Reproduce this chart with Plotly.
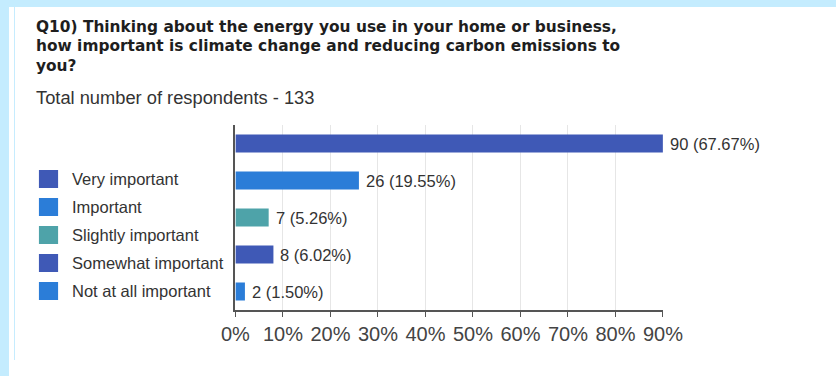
import plotly.graph_objects as go

# Survey responses, Q10
categories = ["Very important", "Important", "Slightly important",
              "Somewhat important", "Not at all important"]
counts = [90, 26, 7, 8, 2]
bar_colors = ["#3f59b6", "#2b7dd8", "#4ea3a9", "#3f59b6", "#2b7dd8"]
tick_values = [0, 10, 20, 30, 40, 50, 60, 70, 80, 90]
tick_labels = ["0%", "10%", "20%", "30%", "40%", "50%", "60%", "70%", "80%", "90%"]

total = sum(counts)
title_lines = ["Q10) Thinking about the energy you use in your home or business,",
               "how important is climate change and reducing carbon emissions to",
               "you?"]
subtitle_text = f"Total number of respondents - {total}"

# the page keeps its default 8px body margin, so the figure is 16px smaller
PAGE_W, PAGE_H, OFF = 836, 376, 8
W, H = PAGE_W - 2 * OFF, PAGE_H - 2 * OFF
FONT = "Arial, Liberation Sans, sans-serif"
TITLE_FONT = "DejaVu Sans, Verdana, sans-serif"
FRAME = "#c4ecfe"


def px_x(p):
    """page pixel column -> paper fraction"""
    return (p - OFF) / W


def px_y(p):
    """page pixel row -> paper fraction"""
    return 1 - (p - OFF) / H


fig = go.Figure()
fig.add_trace(go.Bar(
    x=counts,
    y=categories,
    orientation="h",
    marker=dict(color=bar_colors, line=dict(width=0)),
    showlegend=False,
    hoverinfo="skip",
))

annotations = []
# value labels next to each bar
for cat, c in zip(categories, counts):
    annotations.append(dict(
        x=c, y=cat, xref="x", yref="y",
        text=f"{c} ({c / total * 100:.2f}%)",
        showarrow=False, xanchor="left", yanchor="middle", xshift=5,
        font=dict(family=FONT, size=16.5, color="#333333"),
    ))

# question title, one annotation per line
for line, cy in zip(title_lines, [35, 54.5, 74]):
    annotations.append(dict(
        x=px_x(29), y=px_y(cy), xref="paper", yref="paper",
        text=f"<b>{line}</b>", showarrow=False,
        xanchor="left", yanchor="middle",
        font=dict(family=TITLE_FONT, size=15.4, color="#1e1e1e"),
    ))
annotations.append(dict(
    x=px_x(29), y=px_y(106), xref="paper", yref="paper",
    text=subtitle_text, showarrow=False, xanchor="left", yanchor="middle",
    font=dict(family=FONT, size=18.3, color="#333333"),
))

shapes = []
# sliver of the left frame band that falls inside the figure
shapes.append(dict(type="rect", xref="paper", yref="paper", x0=0, x1=px_x(9),
                   y0=0, y1=1, fillcolor=FRAME, line=dict(width=0)))

# legend entries
legend_top = 187
legend_step = 28
for i, (cat, col) in enumerate(zip(categories, bar_colors)):
    cy = legend_top + i * legend_step
    shapes.append(dict(type="rect", xref="paper", yref="paper",
                       x0=px_x(34), x1=px_x(54), y0=px_y(cy + 9), y1=px_y(cy - 9),
                       fillcolor=col, line=dict(width=0)))
    annotations.append(dict(
        x=px_x(66), y=px_y(cy), xref="paper", yref="paper",
        text=cat, showarrow=False, xanchor="left", yanchor="middle",
        font=dict(family=FONT, size=16.5, color="#333333"),
    ))

fig.update_layout(
    width=W, height=H,
    margin=dict(l=0, r=0, t=0, b=0),
    paper_bgcolor="white",
    plot_bgcolor="white",
    bargap=0.51,
    xaxis=dict(
        domain=[px_x(239), px_x(685)],
        range=[0, 90],
        tickvals=tick_values,
        ticktext=tick_labels,
        showgrid=True, gridcolor="#e6e6e6", gridwidth=1,
        showline=True, linecolor="#555555", linewidth=1.5,
        ticks="outside", ticklen=5, tickcolor="#555555",
        tickfont=dict(family=FONT, size=20, color="#444444"),
        zeroline=False, fixedrange=True,
    ),
    yaxis=dict(
        domain=[px_y(318), px_y(133)],
        autorange="reversed",
        showticklabels=False,
        showgrid=False,
        showline=True, linecolor="#555555", linewidth=1.5,
        zeroline=False, fixedrange=True,
    ),
    annotations=annotations,
    shapes=shapes,
)

# light-blue frame bands along the top and left edges of the page
page_frame = f"""
(function () {{
  var bands = [
    'position:fixed;left:0;top:0;width:100%;height:7px;background:{FRAME};',
    'position:fixed;left:0;top:0;width:9px;height:100%;background:{FRAME};'
  ];
  bands.forEach(function (css) {{
    var d = document.createElement('div');
    d.style.cssText = css + 'pointer-events:none;z-index:10;';
    document.body.appendChild(d);
  }});
}})();
"""

fig.write_html("out.html", post_script=page_frame, config={"displayModeBar": False})
